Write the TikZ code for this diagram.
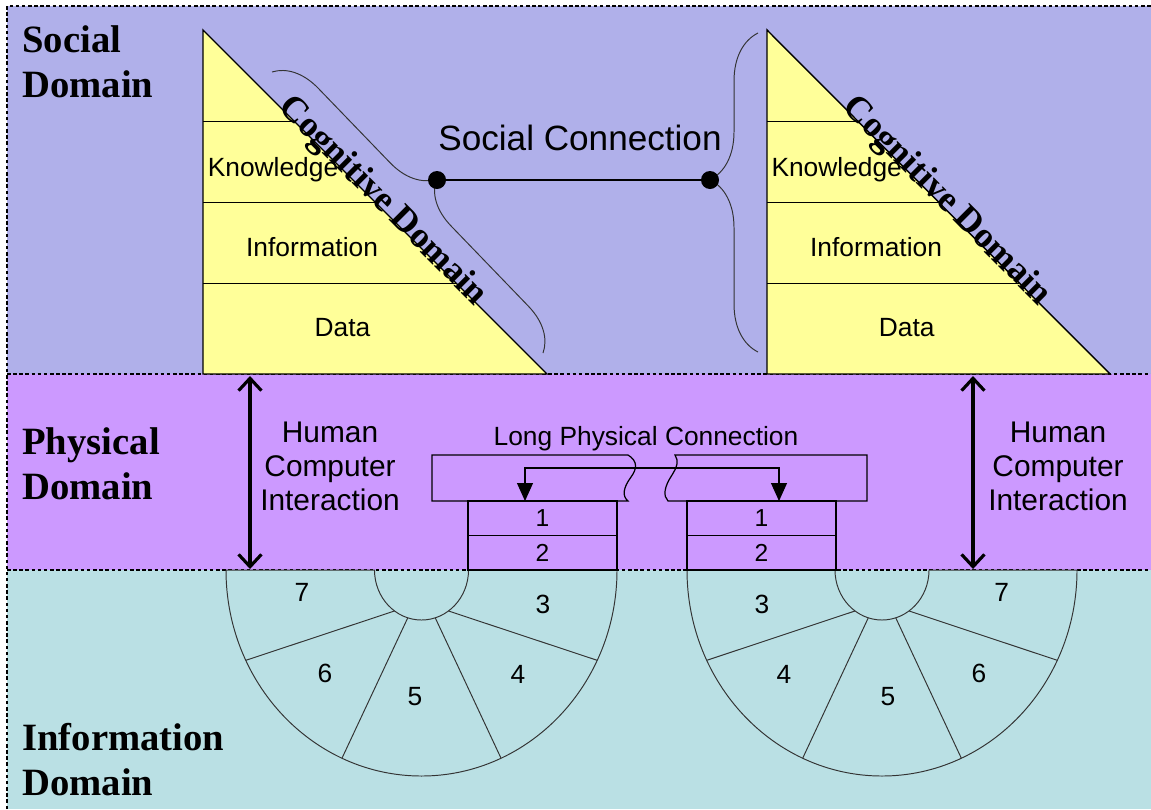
\documentclass[tikz,border=0pt]{standalone}
\usepackage{fontspec}
\setmainfont{Liberation Serif}
\setsansfont{Liberation Sans}
\usepackage{tikz}
\usepackage{xcolor}
\usetikzlibrary{arrows.meta,calc,decorations.pathreplacing}

\definecolor{socialbg}{RGB}{176,176,234}
\definecolor{physbg}{RGB}{204,153,255}
\definecolor{infobg}{RGB}{186,224,228}
\definecolor{pyramid}{RGB}{255,255,153}

\begin{document}
\begin{tikzpicture}[x=0.02cm, y=-0.02cm,
  domlbl/.style={font=\bfseries\fontsize{22}{25.6}\selectfont, align=left, anchor=north west, inner sep=0pt},
  lbl/.style={font=\sffamily\fontsize{15}{18}\selectfont, anchor=base, inner sep=0pt},
  hcilbl/.style={font=\sffamily\fontsize{17}{19.3}\selectfont, align=center, anchor=north, inner sep=0pt},
  cogn/.style={font=\bfseries\fontsize{20.5}{24}\selectfont, rotate=-45, anchor=base, inner sep=0pt},
  sep/.style={dash pattern=on 2pt off 1.5pt, line width=0.6pt},
  pyr/.style={draw, fill=pyramid, line width=0.8pt},
  layer/.style={draw, line width=0.7pt, minimum width=2.98cm, minimum height=0.69cm, inner sep=0pt, font=\sffamily\fontsize{14}{16}\selectfont},
  sector/.style={draw=black!80, line width=0.55pt, fill=infobg},
  num/.style={font=\sffamily\fontsize{15}{18}\selectfont},
  dot/.style={circle, fill, inner sep=0pt, minimum size=0.36cm},
  cable/.style={draw, line width=0.7pt},
  hci/.style={{Straight Barb[length=7pt,width=13pt]}-{Straight Barb[length=7pt,width=13pt]}, line width=1.8pt},
  link/.style={{Triangle[length=0.36cm,width=0.32cm]}-{Triangle[length=0.36cm,width=0.32cm]}, line width=0.6pt}]

  %coordinates
  \coordinate (CL)    at (421.5,570);
  \coordinate (CR)    at (882,570);
  \coordinate (hciL1) at (250,376);
  \coordinate (hciL2) at (250,569);
  \coordinate (hciR1) at (973,376);
  \coordinate (hciR2) at (973,569);
  \coordinate (lpL)   at (525,501);
  \coordinate (lpR)   at (779,501);

  \useasboundingbox (0,0) rectangle (1151,809);
  \fill[white] (0,0) rectangle (1151,809);

  %domains
  \fill[socialbg] (7,6) rectangle (1151,374);
  \fill[physbg] (7,374) rectangle (1151,570);
  \fill[infobg] (7,570) rectangle (1151,809);
  \draw[sep] (7,809) -- (7,6) -- (1151,6);
  \draw[sep] (7,374) -- (1151,374);
  \draw[sep] (7,570) -- (1151,570);

  \node[domlbl] (soc) at (22,25) {Social\\Domain};
  \node[domlbl] (phy) at (22,427) {Physical\\Domain};
  \node[domlbl] (inf) at (22,723) {Information\\Domain};

  %cognitive pyramids
  \draw[pyr] (203,30) -- (547,374) -- (203,374) -- cycle;
  \draw[line width=0.8pt] (203,121.7) -- (294.7,121.7);
  \draw[line width=0.8pt] (203,202.7) -- (375.7,202.7);
  \draw[line width=0.8pt] (203,283.3) -- (456.3,283.3);
  \draw[pyr] (767,30) -- (1110,374) -- (767,374) -- cycle;
  \draw[line width=0.8pt] (767,121.7) -- (858.4,121.7);
  \draw[line width=0.8pt] (767,202.7) -- (939.2,202.7);
  \draw[line width=0.8pt] (767,283.3) -- (1019.6,283.3);

  \node[lbl] (kL) at (273,176) {Knowledge};
  \node[lbl] (iL) at (312,256.7) {Information};
  \node[lbl] (dL) at (342.5,336.7) {Data};
  \node[lbl] (kR) at (836.7,176) {Knowledge};
  \node[lbl] (iR) at (876,256.7) {Information};
  \node[lbl] (dR) at (906.7,336.7) {Data};
  \node[cogn] (cogL) at (376.4,207.6) {Cognitive Domain};
  \node[cogn] (cogR) at (940.4,207.6) {Cognitive Domain};

  %social connection
  \draw[black!80, line width=0.55pt, decorate, decoration={brace, amplitude=0.88cm, aspect=0.49}] (272,72) -- (543,353);
  \draw[black!80, line width=0.55pt, decorate, decoration={brace, amplitude=0.96cm, aspect=0.54}] (758,352) -- (758,33);
  \node[dot] (sc1) at (437,180) {};
  \node[dot] (sc2) at (710,180) {};
  \draw[line width=0.8pt] (sc1) -- (sc2);
  \node[font=\sffamily\fontsize{20}{24}\selectfont, anchor=base, inner sep=0pt] (scl) at (580,150) {Social Connection};

  %information domain sectors
  \draw[sector] (226,570) arc[start angle=180, end angle=0, x radius=195.5, y radius=206] -- (468.5,570) arc[start angle=0, end angle=180, x radius=47, y radius=50] -- cycle;
  \draw[sector] (687,570) arc[start angle=180, end angle=0, x radius=195, y radius=206] -- (929,570) arc[start angle=0, end angle=180, x radius=47, y radius=50] -- cycle;
  \draw[black!80, line width=0.55pt] ($(CL)+({47*cos(55)},{50*sin(55)})$) -- ($(CL)+({195.5*cos(26)},{206*sin(26)})$);
  \draw[black!80, line width=0.55pt] ($(CL)+({47*cos(73)},{50*sin(73)})$) -- ($(CL)+({195.5*cos(66)},{206*sin(66)})$);
  \draw[black!80, line width=0.55pt] ($(CL)+({47*cos(107)},{50*sin(107)})$) -- ($(CL)+({195.5*cos(114)},{206*sin(114)})$);
  \draw[black!80, line width=0.55pt] ($(CL)+({47*cos(125)},{50*sin(125)})$) -- ($(CL)+({195.5*cos(154)},{206*sin(154)})$);
  \draw[black!80, line width=0.55pt] ($(CR)+({47*cos(55)},{50*sin(55)})$) -- ($(CR)+({195*cos(26)},{206*sin(26)})$);
  \draw[black!80, line width=0.55pt] ($(CR)+({47*cos(73)},{50*sin(73)})$) -- ($(CR)+({195*cos(66)},{206*sin(66)})$);
  \draw[black!80, line width=0.55pt] ($(CR)+({47*cos(107)},{50*sin(107)})$) -- ($(CR)+({195*cos(114)},{206*sin(114)})$);
  \draw[black!80, line width=0.55pt] ($(CR)+({47*cos(125)},{50*sin(125)})$) -- ($(CR)+({195*cos(154)},{206*sin(154)})$);

  \node[num] (s7L) at (302,592) {7};
  \node[num] (s6L) at (325,673) {6};
  \node[num] (s5L) at (415,696.7) {5};
  \node[num] (s4L) at (518,674) {4};
  \node[num] (s3L) at (543,604) {3};
  \node[num] (s3R) at (762,604) {3};
  \node[num] (s4R) at (784,674) {4};
  \node[num] (s5R) at (888,696.7) {5};
  \node[num] (s6R) at (979,673) {6};
  \node[num] (s7R) at (1001.7,592) {7};

  %physical domain
  \node[layer] (L1) at (542.5,518.25) {1};
  \node[layer] (L2) at (542.5,552.75) {2};
  \node[layer] (R1) at (761.5,518.25) {1};
  \node[layer] (R2) at (761.5,552.75) {2};

  \draw[cable] (432,455) -- (628,455) .. controls (638,461) and (637,469) .. (631,477) .. controls (623,488) and (622,496) .. (628,501) -- (432,501) -- cycle;
  \draw[cable] (867,455) -- (675,455) .. controls (679,461) and (677,467) .. (672,475) .. controls (664,487) and (663,496) .. (668,501) -- (867,501) -- cycle;
  \draw[link] (lpL) -- ++(0,-33) -| (lpR);
  \node[lbl] (lpc) at (646,445) {Long Physical Connection};

  \draw[hci] (hciL1) -- (hciL2);
  \draw[hci] (hciR1) -- (hciR2);
  \node[hcilbl] (hciLl) at (330,422) {Human\\Computer\\Interaction};
  \node[hcilbl] (hciRl) at (1058,422) {Human\\Computer\\Interaction};

\end{tikzpicture}
\end{document}
